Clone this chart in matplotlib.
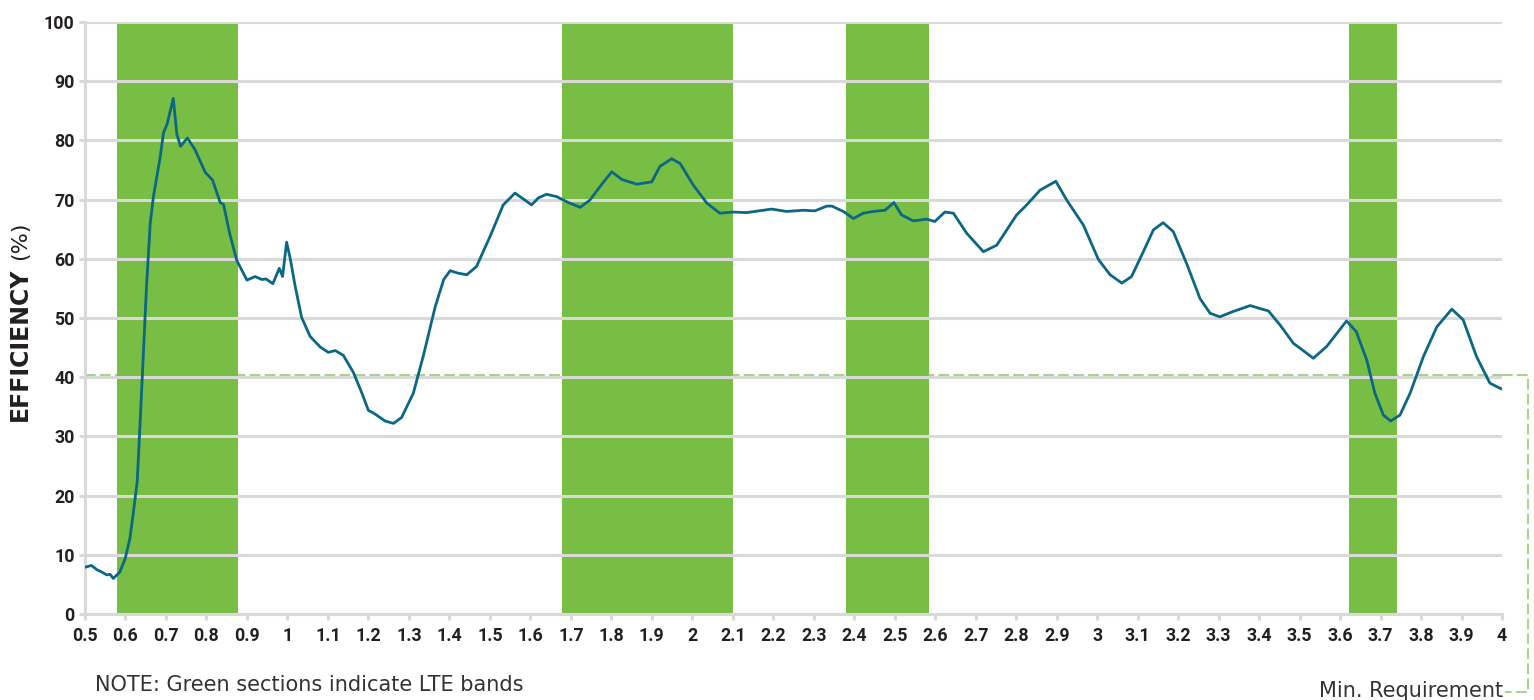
import matplotlib
matplotlib.use("Agg")
import matplotlib.pyplot as plt
from matplotlib.lines import Line2D

# ---- data ----
freq = [0.500, 0.516, 0.529, 0.541, 0.554, 0.562, 0.570, 0.586, 0.599, 0.611,
        0.619, 0.629, 0.636, 0.644, 0.652, 0.661, 0.669, 0.685, 0.694, 0.703,
        0.718, 0.727, 0.736, 0.753, 0.772, 0.797, 0.815, 0.834, 0.842, 0.858,
        0.875, 0.900, 0.920, 0.937, 0.947, 0.964, 0.980, 0.988, 0.998, 1.007,
        1.019, 1.035, 1.056, 1.081, 1.101, 1.118, 1.138, 1.163, 1.184, 1.200,
        1.216, 1.241, 1.262, 1.282, 1.311, 1.336, 1.365, 1.386, 1.402, 1.420,
        1.443, 1.467, 1.500, 1.533, 1.562, 1.587, 1.603, 1.620, 1.640, 1.665,
        1.694, 1.723, 1.747, 1.772, 1.801, 1.826, 1.863, 1.900, 1.920, 1.949,
        1.970, 2.002, 2.036, 2.068, 2.101, 2.134, 2.196, 2.233, 2.274, 2.303,
        2.332, 2.345, 2.373, 2.398, 2.422, 2.447, 2.476, 2.498, 2.517, 2.546,
        2.579, 2.599, 2.624, 2.645, 2.678, 2.719, 2.752, 2.801, 2.826, 2.859,
        2.898, 2.925, 2.966, 3.003, 3.032, 3.061, 3.085, 3.114, 3.139, 3.163,
        3.188, 3.221, 3.254, 3.279, 3.303, 3.336, 3.378, 3.402, 3.423, 3.452,
        3.485, 3.501, 3.534, 3.567, 3.616, 3.640, 3.666, 3.686, 3.707, 3.725,
        3.748, 3.773, 3.806, 3.839, 3.876, 3.904, 3.937, 3.970, 3.999]
efficiency = [7.9, 8.2, 7.5, 7.1, 6.6, 6.7, 6.0, 7.1, 9.3, 12.8,
              16.9, 22.4, 32.1, 43.7, 55.4, 65.9, 70.5, 76.9, 81.3, 82.8,
              87.1, 81.0, 79.0, 80.4, 78.4, 74.6, 73.3, 69.5, 69.2, 64.1,
              59.7, 56.4, 57.0, 56.5, 56.6, 55.8, 58.4, 57.0, 62.8, 60.0,
              55.4, 50.1, 46.9, 45.1, 44.2, 44.5, 43.7, 40.8, 37.3, 34.4,
              33.8, 32.6, 32.2, 33.2, 37.3, 43.7, 51.9, 56.5, 58.0, 57.6,
              57.3, 58.7, 63.7, 69.1, 71.1, 69.9, 69.1, 70.3, 70.9, 70.5,
              69.5, 68.7, 69.9, 72.2, 74.7, 73.4, 72.6, 73.0, 75.6, 76.9,
              76.1, 72.5, 69.4, 67.7, 67.9, 67.8, 68.4, 68.0, 68.2, 68.1,
              68.9, 68.9, 68.0, 66.8, 67.7, 68.0, 68.2, 69.5, 67.4, 66.4,
              66.7, 66.3, 67.9, 67.7, 64.3, 61.2, 62.3, 67.4, 69.1, 71.6,
              73.1, 69.9, 65.7, 59.9, 57.3, 55.9, 57.0, 61.2, 64.9, 66.1,
              64.6, 59.2, 53.3, 50.8, 50.2, 51.1, 52.1, 51.6, 51.2, 48.8,
              45.7, 44.9, 43.2, 45.2, 49.5, 47.7, 42.9, 37.3, 33.6, 32.6,
              33.6, 37.3, 43.5, 48.5, 51.5, 49.7, 43.5, 39.0, 38.0]
lte_bands = [(0.58, 0.878), (1.679, 2.10), (2.38, 2.585), (3.622, 3.741)]
min_requirement = 40
x_ticks = [0.5, 0.6, 0.7, 0.8, 0.9, 1.0, 1.1, 1.2, 1.3, 1.4, 1.5, 1.6, 1.7, 1.8,
           1.9, 2.0, 2.1, 2.2, 2.3, 2.4, 2.5, 2.6, 2.7, 2.8, 2.9, 3.0, 3.1, 3.2,
           3.3, 3.4, 3.5, 3.6, 3.7, 3.8, 3.9, 4.0]
x_tick_labels = ["0.5", "0.6", "0.7", "0.8", "0.9", "1", "1.1", "1.2", "1.3", "1.4",
                 "1.5", "1.6", "1.7", "1.8", "1.9", "2", "2.1", "2.2", "2.3", "2.4",
                 "2.5", "2.6", "2.7", "2.8", "2.9", "3", "3.1", "3.2", "3.3", "3.4",
                 "3.5", "3.6", "3.7", "3.8", "3.9", "4"]
y_ticks = [0, 10, 20, 30, 40, 50, 60, 70, 80, 90, 100]
y_tick_labels = [str(v) for v in y_ticks]

# ---- style ----
W, H = 1534, 700
LINE_C = "#0b6783"
GREEN = "#78be45"
GRID_C = "#d9d9d9"
DASH_C = "#8cc866"
TXT_C = "#231f20"
NOTE_C = "#333333"
DASH = (0, (7, 2.8))

fig = plt.figure(figsize=(W / 100, H / 100), dpi=100)
ax = fig.add_axes([85 / W, 1 - 614 / H, (1502 - 85) / W, (614 - 22) / H])
ax.set_xlim(0.5, 4.0)
ax.set_ylim(0, 100)

for lo, hi in lte_bands:
    ax.axvspan(lo, hi, color=GREEN, lw=0, zorder=0.3)

ax.set_axisbelow(True)
ax.yaxis.grid(True, color=GRID_C, lw=2.2)
ax.xaxis.grid(False)

ax.plot(freq, efficiency, color=LINE_C, lw=2.0, zorder=3,
        solid_joinstyle="round", solid_capstyle="round")

for s in ["top", "right"]:
    ax.spines[s].set_visible(False)
for s in ["left", "bottom"]:
    ax.spines[s].set_color(GRID_C)
    ax.spines[s].set_linewidth(2.2)
    ax.spines[s].set_zorder(0.6)

ax.set_xticks(x_ticks)
ax.set_xticklabels(x_tick_labels)
ax.set_yticks(y_ticks)
ax.set_yticklabels(y_tick_labels)
ax.tick_params(axis="both", colors=GRID_C, width=2.2, length=4.5,
               labelcolor=TXT_C, labelsize=12.8)
ax.tick_params(axis="x", pad=5)
ax.tick_params(axis="y", pad=3)
for lab in ax.get_xticklabels() + ax.get_yticklabels():
    lab.set_fontfamily(["Roboto", "DejaVu Sans"])
    lab.set_fontweight("bold")

# minimum requirement dashed guide
req_y = min_requirement + 0.45
ax.plot([0.5, 4.0], [req_y, req_y], color=DASH_C, lw=1.1,
        linestyle=DASH, zorder=0.2, clip_on=False)
fig.canvas.draw()
to_fig = fig.transFigure.inverted()
x_end_px, y_req_px = ax.transData.transform((4.0, req_y))
outer_px = [(x_end_px, y_req_px), (1528, y_req_px),
            (1528, H - 692), (1505, H - 692)]
outer_fig = to_fig.transform(outer_px)
fig.add_artist(Line2D(outer_fig[:, 0], outer_fig[:, 1], transform=fig.transFigure,
                      color=DASH_C, lw=1.1, linestyle=DASH))

# axis label
fig.text(20 / W, 1 - 421 / H, "EFFICIENCY", rotation=90, ha="center", va="bottom",
         fontsize=17, fontweight="bold", color=TXT_C, family=["DejaVu Sans"])
fig.text(20 / W, 1 - 222 / H, "(%)", rotation=90, ha="center", va="top",
         fontsize=16, color=TXT_C, family=["DejaVu Sans"])

fig.text(95 / W, 1 - 691 / H, "NOTE: Green sections indicate LTE bands",
         ha="left", va="baseline", fontsize=15, color=NOTE_C,
         family=["DejaVu Sans"])
fig.text(1503 / W, 1 - 697 / H, "Min. Requirement", ha="right", va="baseline",
         fontsize=15, color=NOTE_C, family=["DejaVu Sans"])

fig.savefig("out.png", dpi=100)
